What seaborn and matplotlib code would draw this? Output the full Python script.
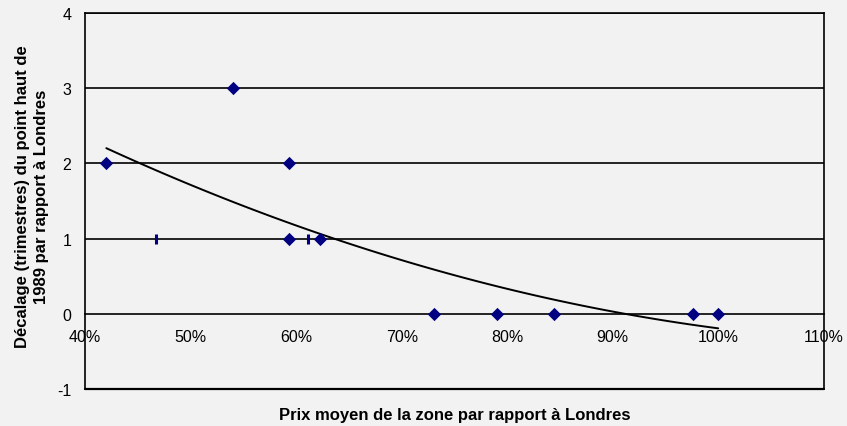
import numpy as np
import pandas as pd
import matplotlib
matplotlib.use("Agg")
import matplotlib.pyplot as plt
import seaborn as sns
from matplotlib.ticker import PercentFormatter

# Zone price relative to London (share) and lag of the 1989 peak (quarters)
prix = [0.42, 0.54, 0.593, 0.593, 0.623, 0.731, 0.79, 0.844, 0.976, 1.00]
decalage = [2, 3, 2, 1, 1, 0, 0, 0, 0, 0]

# Secondary observations drawn as short vertical dashes
prix_tiret = [0.467, 0.611]
decalage_tiret = [1, 1]

x_ticks = [0.4, 0.5, 0.6, 0.7, 0.8, 0.9, 1.0, 1.1]
y_ticks = [-1, 0, 1, 2, 3, 4]

sns.set_theme(style="white")
plt.rcParams["font.family"] = ["Liberation Sans", "DejaVu Sans"]
plt.rcParams["axes.unicode_minus"] = False
plt.rcParams["text.color"] = "black"

bg = "#F2F2F2"
navy = "#000080"

fig = plt.figure(figsize=(8.47, 4.27), dpi=100, facecolor=bg)
ax = fig.add_axes([0.1006, 0.0867, 0.8719, 0.8805], facecolor=bg)

df = pd.DataFrame({"prix": prix, "decalage": decalage})
df_t = pd.DataFrame({"prix": prix_tiret, "decalage": decalage_tiret})
df_all = pd.concat([df, df_t], ignore_index=True)

# Horizontal gridlines
for yv in [1, 2, 3, 4]:
    ax.axhline(yv, color="black", lw=1.2, zorder=1)

# Second-order polynomial trend over all observations
sns.regplot(data=df_all, x="prix", y="decalage", order=2, ci=None, scatter=False,
            truncate=True, line_kws=dict(color="black", lw=1.4, zorder=2), ax=ax)

sns.scatterplot(data=df, x="prix", y="decalage", marker="D", s=46, color=navy,
                edgecolor=navy, linewidth=0, zorder=3, ax=ax)
ax.plot(df_t["prix"], df_t["decalage"], linestyle="none", marker="|",
        markersize=7, mew=2.2, color=navy, zorder=3)

ax.set_xlim(0.4, 1.1)
ax.set_ylim(-1, 4)
ax.set_xticks(x_ticks)
ax.set_yticks(y_ticks)
ax.xaxis.set_major_formatter(PercentFormatter(1.0, decimals=0))

for s in ["left", "right", "top", "bottom"]:
    ax.spines[s].set_visible(True)
    ax.spines[s].set_color("black")
    ax.spines[s].set_linewidth(1.2)
ax.spines["bottom"].set_position(("data", 0))
ax.axhline(-1, color="black", lw=1.6, clip_on=False, zorder=4)

ax.tick_params(axis="both", which="major", direction="out", length=4, width=1,
               color="black", labelsize=11.5, labelcolor="black")
ax.tick_params(axis="x", pad=7)
ax.tick_params(axis="y", pad=6)
ax.set_xlabel("")
ax.set_ylabel("")

fig.text(0.038, 0.54, "Décalage (trimestres) du point haut de\n1989 par rapport à Londres",
         rotation=90, ha="center", va="center", multialignment="center",
         fontsize=12, fontweight="bold", linespacing=1.35, color="black")
fig.text(0.537, 0.028, "Prix moyen de la zone par rapport à Londres",
         ha="center", va="center", fontsize=12, fontweight="bold", color="black")

fig.savefig("out.png", dpi=100, facecolor=bg)
